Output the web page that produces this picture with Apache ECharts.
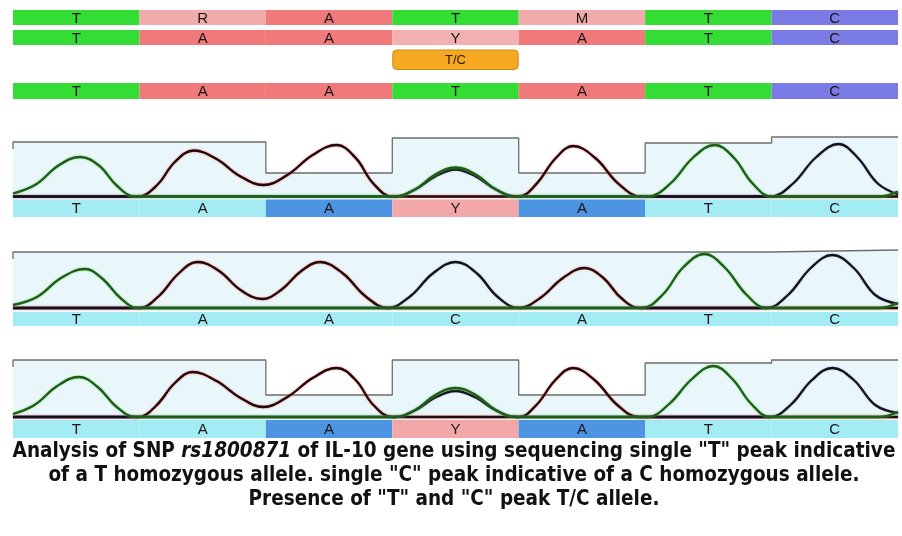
<!DOCTYPE html>
<html><head><meta charset="utf-8">
<script src="https://cdn.jsdelivr.net/npm/echarts@6/dist/echarts.min.js"></script>
<style>html,body{margin:0;padding:0;background:#fff}#c{width:902px;height:536px}</style>
</head><body><div id="c"></div>
<script>
// ---------- DATA ----------
const basePositions = [0, 1, 2, 3, 4, 5, 6];
const trackSeq1 = ['T', 'R', 'A', 'T', 'M', 'T', 'C'];
const trackSeq2 = ['T', 'A', 'A', 'Y', 'A', 'T', 'C'];
const snpCall   = ['', '', '', 'T/C', '', '', ''];
const trackRef  = ['T', 'A', 'A', 'T', 'A', 'T', 'C'];

const panel1Labels = ['T', 'A', 'A', 'Y', 'A', 'T', 'C'];
const panel1Flags  = [0, 0, 1, 1, 1, 0, 0];
const panel2Labels = ['T', 'A', 'A', 'C', 'A', 'T', 'C'];
const panel2Flags  = [0, 0, 0, 0, 0, 0, 0];
const panel3Labels = ['T', 'A', 'A', 'Y', 'A', 'T', 'C'];
const panel3Flags  = [0, 0, 1, 1, 1, 0, 0];

const panel1Quality = [54.5, 54.5, 23.5, 58.5, 23.5, 53.5, 59.5];
const panel2Quality = [56, 56, 56, 56, 56, 56, 58];
const panel3Quality = [57, 57, 22, 57, 22, 54, 57];

// traces: [base position, signal]
const panel1T = [[0,3],[0.18,12],[0.36,31],[0.53,39.5],[0.68,31],[0.82,11],[0.97,0],[1.15,0],
  [2.9,0],[3.02,0],[3.18,7],[3.34,22],[3.5,29],[3.66,22],[3.82,7],[3.98,0],[4.15,0],
  [4.9,0],[5.02,0],[5.2,13],[5.38,39],[5.55,51.5],[5.7,39],[5.85,13],[6.0,0],[6.15,0],[6.85,0],[7,5]];
const panel1A = [[0,0],[0.85,0],[0.99,0],[1.14,11.5],[1.28,34.5],[1.43,46],[1.61,37.4],[1.8,20],[1.98,11.5],
  [2.17,21.5],[2.37,41.5],[2.56,51.5],[2.71,38.6],[2.85,13],[3.0,0],[3.15,0],
  [3.85,0],[4.0,0],[4.14,12.6],[4.29,38],[4.43,50.5],[4.61,38],[4.79,12.6],[4.97,0],[5.15,0],[7,0]];
const panel1C = [[0,0],[2.9,0],[3.02,0],[3.18,7],[3.34,20],[3.5,27],[3.66,20],[3.82,7],[3.98,0],[4.15,0],
  [5.85,0],[5.99,0],[6.17,13],[6.35,39],[6.53,52.5],[6.68,39],[6.84,13],[7,2]];

const panel2T = [[0,3],[0.19,11],[0.38,30],[0.57,39],[0.71,29],[0.85,10],[0.99,0],[1.15,0],
  [4.8,0],[4.97,0],[5.14,13.5],[5.3,40.5],[5.47,54],[5.63,40.5],[5.8,13.5],[5.96,0],[6.15,0],[6.85,0],[7,5]];
const panel2A = [[0,0],[0.85,0],[1.0,0],[1.15,11.5],[1.31,34.5],[1.46,46],[1.63,37],[1.8,18],[1.97,9],
  [2.12,18],[2.28,37],[2.43,46],[2.61,34.5],[2.79,11.5],[2.97,0],[3.15,0],
  [3.85,0],[4.0,0],[4.17,10],[4.35,30],[4.52,40],[4.67,30],[4.81,10],[4.96,0],[5.15,0],[7,0]];
const panel2C = [[0,0],[2.8,0],[2.96,0],[3.14,11.5],[3.32,34.5],[3.5,46],[3.67,34.5],[3.83,11.5],[4.0,0],[4.2,0],
  [5.8,0],[5.96,0],[6.13,13],[6.31,40],[6.48,53],[6.65,40],[6.82,13],[7,4]];

const panel3T = [[0,3],[0.17,12],[0.35,31],[0.52,40],[0.67,30],[0.82,10],[0.97,0],[1.15,0],
  [2.9,0],[3.02,0],[3.18,7],[3.34,22],[3.5,29],[3.66,22],[3.82,7],[3.98,0],[4.15,0],
  [4.9,0],[5.02,0],[5.19,13],[5.37,38],[5.54,51],[5.69,38],[5.84,13],[5.99,0],[6.15,0],[6.85,0],[7,5]];
const panel3A = [[0,0],[0.85,0],[0.99,0],[1.13,11],[1.28,34],[1.42,45],[1.61,36],[1.8,19],[1.98,10],
  [2.17,20],[2.37,39],[2.56,49],[2.71,37],[2.85,12],[3.0,0],[3.15,0],
  [3.85,0],[4.0,0],[4.14,12],[4.29,37],[4.43,49],[4.6,37],[4.78,12],[4.95,0],[5.15,0],[7,0]];
const panel3C = [[0,0],[2.9,0],[3.02,0],[3.18,6.5],[3.34,19.5],[3.5,26],[3.66,19.5],[3.82,6.5],[3.98,0],[4.15,0],
  [5.85,0],[5.99,0],[6.15,12],[6.32,37],[6.48,49],[6.65,37],[6.82,12],[7,4]];

const captionLines = [
  'Analysis of SNP {i|rs1800871} of IL-10 gene using sequencing single "T" peak indicative',
  'of a T homozygous allele. single "C" peak indicative of a C homozygous allele.',
  'Presence of "T" and "C" peak T/C allele.'
];

// ---------- STYLE ----------
const trackColors = { T: '#33dd33', A: '#f07a7a', C: '#7b7be6', R: '#f2abab', M: '#f2abab', Y: '#f2b0b0' };
const bandCyan = '#a4ecf4', bandBlue = '#4d95e2', bandPink = '#f2a8a8';
const GL = 13, GR = 4;

const chart = echarts.init(document.getElementById('c'), null, { renderer: 'canvas' });

const panels = [
  { base: 196.5, min: -20.5, bandTop: -3, bandBot: -20.5, labels: panel1Labels, flags: panel1Flags, q: panel1Quality, T: panel1T, A: panel1A, C: panel1C },
  { base: 308,   min: -18,   bandTop: -4, bandBot: -18,   labels: panel2Labels, flags: panel2Flags, q: panel2Quality, T: panel2T, A: panel2A, C: panel2C },
  { base: 417,   min: -21,   bandTop: -3, bandBot: -21,   labels: panel3Labels, flags: panel3Flags, q: panel3Quality, T: panel3T, A: panel3A, C: panel3C }
];
const YMAX = 62;

const grids = [{ left: GL, right: GR, top: 0, height: 110 }];
const xAxes = [{ type: 'value', min: 0, max: 7, show: false, gridIndex: 0 }];
const yAxes = [{ type: 'value', min: 0, max: 110, inverse: true, show: false, gridIndex: 0 }];
panels.forEach((p, k) => {
  grids.push({ left: GL, right: GR, top: p.base - YMAX, height: YMAX - p.min });
  xAxes.push({ type: 'value', min: 0, max: 7, show: false, gridIndex: k + 1 });
  yAxes.push({ type: 'value', min: p.min, max: YMAX, show: false, gridIndex: k + 1 });
});

const trackRows = [
  { seq: trackSeq1, y0: 10, y1: 25 },
  { seq: trackSeq2, y0: 30, y1: 45 },
  { seq: trackRef,  y0: 83, y1: 99 }
];

const series = [];
trackRows.forEach(row => {
  series.push({
    type: 'custom', xAxisIndex: 0, yAxisIndex: 0, silent: true,
    data: basePositions.map(i => [i, 0]),
    renderItem: (params, api) => {
      const i = api.value(0);
      const letter = row.seq[params.dataIndex];
      const a = api.coord([i, row.y0]), b = api.coord([i + 1, row.y1]);
      return { type: 'group', children: [
        { type: 'rect', shape: { x: a[0], y: a[1], width: b[0] - a[0], height: b[1] - a[1] }, style: { fill: trackColors[letter] } },
        { type: 'text', style: { text: letter, x: (a[0] + b[0]) / 2, y: (a[1] + b[1]) / 2 + 1, align: 'center', verticalAlign: 'middle',
          font: '15px "Liberation Sans", Arial, sans-serif', fill: '#1c1414' } }
      ] };
    }
  });
});
series.push({
  type: 'custom', xAxisIndex: 0, yAxisIndex: 0, silent: true,
  data: basePositions.filter(i => snpCall[i]).map(i => [i, 0]),
  renderItem: (params, api) => {
    const i = api.value(0);
    const a = api.coord([i, 50]), b = api.coord([i + 1, 69.5]);
    return { type: 'group', children: [
      { type: 'rect', shape: { x: a[0] + 0.5, y: a[1], width: b[0] - a[0] - 1, height: b[1] - a[1], r: 4 }, style: { fill: '#f6a820', stroke: '#c98a12', lineWidth: 1 } },
      { type: 'text', style: { text: snpCall[i], x: (a[0] + b[0]) / 2, y: (a[1] + b[1]) / 2 + 1, align: 'center', verticalAlign: 'middle',
        font: '13px "Liberation Sans", Arial, sans-serif', fill: '#2a2000' } }
    ] };
  }
});

panels.forEach((p, k) => {
  const ax = k + 1;
  const qData = [[0, p.q[0] - 7]].concat(p.q.map((v, i) => [i, v])).concat([[7, p.q[6]]]);
  series.push({
    type: 'line', xAxisIndex: ax, yAxisIndex: ax, data: qData, step: 'end', showSymbol: false, silent: true,
    lineStyle: { color: '#6e6e6e', width: 1.3 }, areaStyle: { color: '#eaf7fa', opacity: 1, origin: 0 }, z: 1
  });
  series.push({
    type: 'custom', xAxisIndex: ax, yAxisIndex: ax, silent: true, z: 2,
    data: basePositions.map(i => [i, 0]),
    renderItem: (params, api) => {
      const i = api.value(0);
      const letter = p.labels[params.dataIndex];
      const flag = p.flags[params.dataIndex];
      const fill = flag ? (letter === 'Y' ? bandPink : bandBlue) : bandCyan;
      const a = api.coord([i, p.bandTop]), b = api.coord([i + 1, p.bandBot]);
      return { type: 'group', children: [
        { type: 'rect', shape: { x: a[0], y: a[1], width: b[0] - a[0], height: b[1] - a[1] }, style: { fill: fill } },
        { type: 'text', style: { text: letter, x: (a[0] + b[0]) / 2, y: (a[1] + b[1]) / 2 + 1, align: 'center', verticalAlign: 'middle',
          font: '15px "Liberation Sans", Arial, sans-serif', fill: '#1c1418' } }
      ] };
    }
  });
  const traceStyle = [
    { d: p.A, c: '#220808', s: 'rgba(230,70,70,0.8)' },
    { d: p.C, c: '#121218', s: 'rgba(70,70,200,0.4)' },
    { d: p.T, c: '#225a1c', s: 'rgba(70,210,70,0.8)' }
  ];
  traceStyle.forEach((t, j) => {
    series.push({
      type: 'line', xAxisIndex: ax, yAxisIndex: ax, data: t.d, smooth: 0.4, showSymbol: false, silent: true, z: 3 + j,
      lineStyle: { color: t.c, width: 2.3, shadowColor: t.s, shadowBlur: 2 }
    });
  });
});

const capFont = '"Liberation Sans Narrow", "DejaVu Sans Condensed", sans-serif';
const graphic = captionLines.map((txt, n) => ({
  type: 'text', x: 454, y: 452 + n * 24, silent: true,
  style: {
    text: txt, align: 'center', verticalAlign: 'middle',
    fontFamily: capFont, fontSize: 20.5, fontWeight: 'bold', fill: '#111',
    rich: { i: { fontFamily: capFont, fontSize: 20.5, fontWeight: 'bold', fontStyle: 'italic', fill: '#111' } }
  }
}));

chart.setOption({
  animation: false,
  backgroundColor: '#ffffff',
  grid: grids, xAxis: xAxes, yAxis: yAxes,
  series: series,
  graphic: graphic
});
</script>
</body></html>
